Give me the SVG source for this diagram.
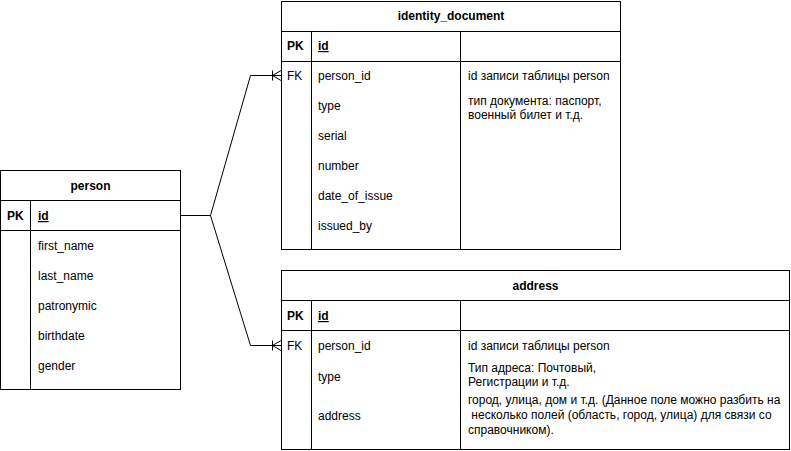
<svg xmlns="http://www.w3.org/2000/svg" width="791" height="451" viewBox="0 0 791 451">
<style>
.box{fill:#fff;stroke:#000;stroke-width:1}
.ln{stroke:#000;stroke-width:1;fill:none}
text{font-family:"Liberation Sans",Arial,sans-serif;font-size:12px;fill:#000}
.b{font-weight:bold}
.t{font-weight:bold;text-anchor:middle}
.u{text-decoration:underline}
</style>
<rect width="791" height="451" fill="#fff"/>
<g id="connectors">
<path class="ln" d="M181,215.5 H210.5 L250.5,75.5 H281"/>
<path class="ln" d="M210.5,215.5 L250.5,345.5 H281"/>
<path class="ln" d="M272.5,70.5 V80.5 M281,70.5 L272.5,75.5 L281,80.5"/>
<path class="ln" d="M272.5,340.5 V350.5 M281,340.5 L272.5,345.5 L281,350.5"/>
</g>
<g id="person">
<rect class="box" x="0.5" y="170.5" width="180" height="219"/>
<path class="ln" d="M0.5,200.5 H180.5 M0.5,230.5 H180.5 M30.5,200.5 V389.5"/>
<text class="t" x="90.5" y="190">person</text>
<text class="b" x="7" y="220">PK</text>
<text class="b u" x="38" y="220">id</text>
<text x="38" y="250">first_name</text>
<text x="38" y="280">last_name</text>
<text x="38" y="310">patronymic</text>
<text x="38" y="340">birthdate</text>
<text x="38" y="370">gender</text>
</g>
<g id="identity_document">
<rect class="box" x="281.5" y="1.5" width="339" height="248"/>
<path class="ln" d="M281.5,31.5 H620.5 M281.5,61.5 H620.5 M311.5,31.5 V249.5 M460.5,31.5 V249.5"/>
<text class="t" x="451" y="20">identity_document</text>
<text class="b" x="287" y="50">PK</text>
<text class="b u" x="318" y="50">id</text>
<text x="287" y="80">FK</text>
<text x="318" y="80">person_id</text>
<text x="468" y="80">id записи таблицы person</text>
<text x="318" y="110">type</text>
<text x="468" y="105">тип документа: паспорт,</text>
<text x="468" y="119">военный билет и т.д.</text>
<text x="318" y="140">serial</text>
<text x="318" y="170">number</text>
<text x="318" y="200">date_of_issue</text>
<text x="318" y="230">issued_by</text>
</g>
<g id="address">
<rect class="box" x="281.5" y="270.5" width="508" height="179"/>
<path class="ln" d="M281.5,300.5 H789.5 M281.5,330.5 H789.5 M311.5,300.5 V449.5 M460.5,300.5 V449.5"/>
<text class="t" x="535.5" y="290">address</text>
<text class="b" x="287" y="320">PK</text>
<text class="b u" x="318" y="320">id</text>
<text x="287" y="350">FK</text>
<text x="318" y="350">person_id</text>
<text x="468" y="350">id записи таблицы person</text>
<text x="318" y="381">type</text>
<text x="468" y="372">Тип адреса: Почтовый,</text>
<text x="468" y="386">Регистрации и т.д.</text>
<text x="318" y="420">address</text>
<text x="468" y="404">город, улица, дом и т.д. (Данное поле можно разбить на</text>
<text x="468" y="419" xml:space="preserve"> несколько полей (область, город, улица) для связи со</text>
<text x="468" y="434">справочником).</text>
</g>
</svg>
